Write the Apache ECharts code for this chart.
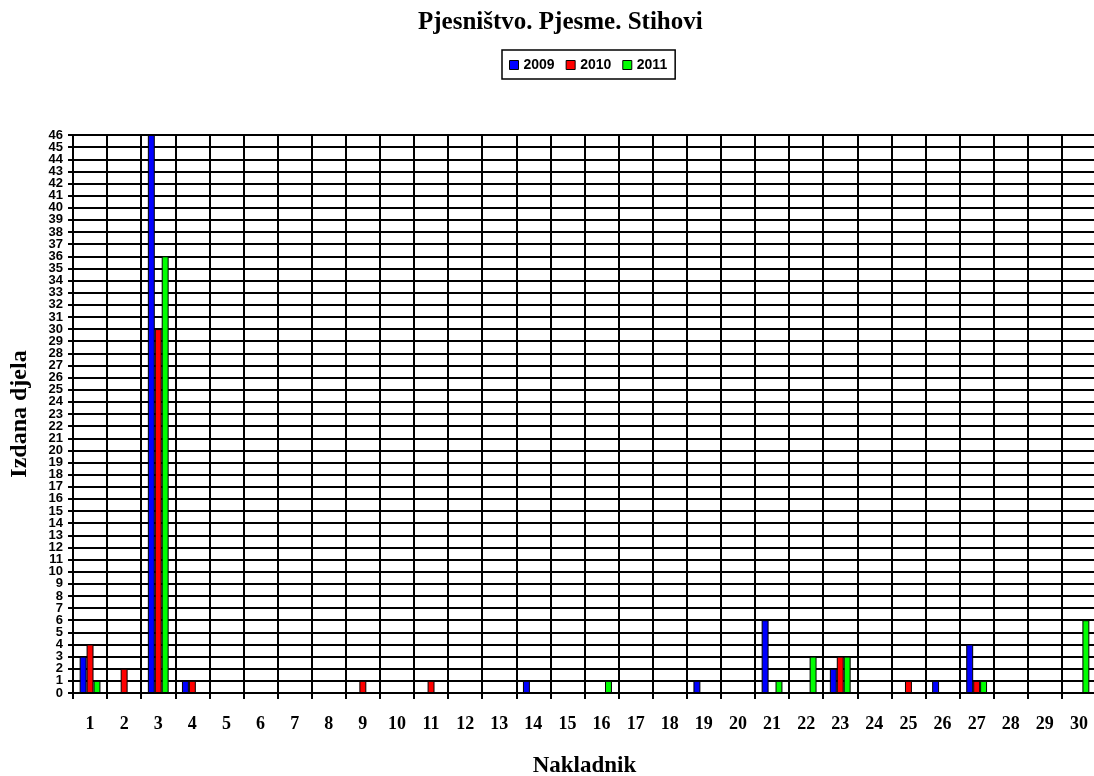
<!DOCTYPE html>
<html>
<head>
<meta charset="utf-8">
<script src="https://cdn.jsdelivr.net/npm/echarts@6/dist/echarts.min.js"></script>
<style>
html,body{margin:0;padding:0;background:#fff;}
#chart{width:1094px;height:776px;}
</style>
</head>
<body>
<div id="chart"></div>
<script>
var nakladnici = ['1','2','3','4','5','6','7','8','9','10','11','12','13','14','15','16','17','18','19','20','21','22','23','24','25','26','27','28','29','30'];
var god2009 = [3,0,46,1,0,0,0,0,0,0,0,0,0,1,0,0,0,0,1,0,6,0,2,0,0,1,4,0,0,0];
var god2010 = [4,2,30,1,0,0,0,0,1,0,1,0,0,0,0,0,0,0,0,0,0,0,3,0,1,0,1,0,0,0];
var god2011 = [1,0,36,0,0,0,0,0,0,0,0,0,0,0,0,1,0,0,0,0,1,3,3,0,0,0,1,0,0,6];

var chart = echarts.init(document.getElementById('chart'));
function makeSeries(name, color, data) {
    return {
        name: name,
        type: 'bar',
        data: data,
        barGap: '0%',
        barCategoryGap: '39%',
        itemStyle: {color: color, borderColor: '#000', borderWidth: 1},
        animation: false
    };
}
var yLabel = {fontFamily: 'Liberation Sans', fontWeight: 'bold', fontSize: 13, color: '#000', margin: 10, lineHeight: 11};
var option = {
    backgroundColor: '#fff',
    title: {
        text: 'Pjesništvo. Pjesme. Stihovi',
        left: 413,
        top: 5,
        textStyle: {fontFamily: 'Liberation Serif', fontWeight: 'bold', fontSize: 25, color: '#000'}
    },
    legend: {
        top: 50,
        left: 502,
        data: ['2009', '2010', '2011'],
        itemWidth: 9,
        itemHeight: 9,
        itemGap: 11,
        icon: 'rect',
        padding: [8, 8, 7, 7],
        borderColor: '#000',
        borderWidth: 1.5,
        backgroundColor: '#fff',
        itemStyle: {borderColor: '#000', borderWidth: 1},
        textStyle: {fontFamily: 'Liberation Sans', fontWeight: 'bold', fontSize: 14, color: '#000'}
    },
    grid: {left: 73, width: 1023, top: 135, bottom: 83, outerBoundsMode: 'none'},
    xAxis: {
        type: 'category',
        data: nakladnici,
        name: 'Nakladnik',
        nameLocation: 'middle',
        nameGap: 62,
        nameTextStyle: {fontFamily: 'Liberation Serif', fontWeight: 'bold', fontSize: 23, color: '#000'},
        axisLine: {lineStyle: {color: '#000', width: 2}},
        axisTick: {show: true, length: 6, lineStyle: {color: '#000', width: 2}},
        splitLine: {show: true, lineStyle: {color: '#000', width: 2}},
        axisLabel: {fontFamily: 'Liberation Serif', fontWeight: 'bold', fontSize: 18, color: '#000', margin: 22}
    },
    yAxis: [{
        type: 'value',
        min: 0,
        max: 46,
        interval: 1,
        name: 'Izdana djela',
        nameLocation: 'middle',
        nameGap: 41,
        nameTextStyle: {fontFamily: 'Liberation Serif', fontWeight: 'bold', fontSize: 24, color: '#000'},
        axisLine: {show: true, lineStyle: {color: '#000', width: 2}},
        axisTick: {show: true, length: 5, lineStyle: {color: '#000', width: 2}},
        splitLine: {show: true, lineStyle: {color: '#000', width: 2}},
        // even labels here, odd ones on the overlaid axis so none get hidden
        axisLabel: Object.assign({showMinLabel: true, showMaxLabel: true, formatter: function (v) {
            return v % 2 === 0 ? String(v) : '';
        }}, yLabel)
    }, {
        type: 'value',
        position: 'left',
        offset: 0,
        min: 0,
        max: 46,
        interval: 1,
        axisLine: {show: false},
        axisTick: {show: false},
        splitLine: {show: false},
        axisLabel: Object.assign({formatter: function (v) {
            return v % 2 === 1 ? String(v) : '';
        }}, yLabel)
    }],
    series: [
        makeSeries('2009', '#0000ff', god2009),
        makeSeries('2010', '#ff0000', god2010),
        makeSeries('2011', '#00ff00', god2011)
    ]
};
chart.setOption(option);
</script>
</body>
</html>
